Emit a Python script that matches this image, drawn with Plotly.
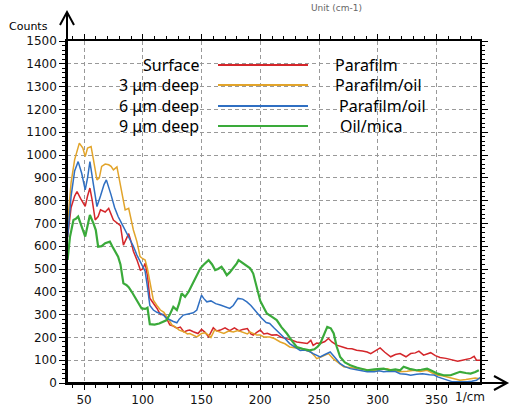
import plotly.graph_objects as go

# ---------------- data ----------------
surface_x = [36, 39, 42, 44, 47, 51, 53, 55, 57, 59.5, 62, 64, 68, 71, 75, 79, 81, 83.5, 86, 88, 90, 92, 95, 98, 100, 102, 104, 106, 109, 112, 115, 118, 120, 123, 126, 129, 132, 135, 138, 140, 143, 147, 150, 153, 156, 160, 163, 166, 170, 174, 178, 182, 185, 189, 192, 194, 197, 200, 203, 206, 210, 214, 218, 223, 227, 231, 236, 240, 243, 245, 248, 251, 255, 258, 261, 265, 270, 274, 278, 282, 287, 291, 294, 298, 302, 306, 311, 315, 319, 324, 328, 332, 335, 339, 342, 345, 349, 353, 358, 362, 368, 372, 376, 379, 382, 384, 389]
surface_y = [640, 770, 820, 840, 810, 775, 820, 855, 800, 715, 730, 760, 750, 766, 715, 700, 690, 605, 630, 655, 620, 578, 540, 495, 500, 525, 470, 372, 350, 328, 300, 300, 285, 255, 250, 240, 245, 224, 230, 232, 225, 217, 235, 222, 202, 242, 228, 232, 242, 230, 242, 229, 235, 239, 215, 210, 222, 232, 215, 218, 210, 212, 200, 195, 188, 180, 176, 173, 187, 165, 175, 173, 182, 195, 180, 166, 158, 151, 150, 144, 140, 136, 129, 140, 154, 135, 115, 125, 129, 115, 129, 132, 140, 122, 128, 133, 120, 112, 108, 103, 95, 100, 103, 108, 117, 100, 100]

deep3_x = [36, 39, 42, 46, 49, 51, 53, 56, 58, 61, 63, 65, 68, 71, 73, 75, 78, 80, 82, 85, 88, 90, 92, 95, 97.7, 100, 102, 104, 106, 109, 112, 115, 118, 121, 125, 128, 131, 135, 138, 140, 143, 146, 150, 153, 156, 158, 161, 165, 169, 173, 177, 181, 185, 189, 191, 194, 197, 200, 203, 208, 212, 217, 221, 225, 230, 234, 238, 243, 246, 248, 252, 255, 258, 262, 266, 271, 276, 282, 288, 294, 297, 302, 308, 313, 319, 325, 331, 336, 342, 346, 351, 355, 359, 364, 370, 375, 379, 383, 387]
deep3_y = [700, 880, 980, 1052, 1030, 993, 1030, 1037, 980, 891, 900, 950, 960, 957, 950, 935, 948, 891, 830, 759, 766, 720, 671, 620, 554, 545, 539, 500, 440, 363, 340, 320, 310, 285, 254, 245, 232, 225, 215, 217, 208, 202, 217, 220, 210, 200, 232, 225, 217, 228, 224, 230, 224, 215, 224, 217, 210, 210, 202, 202, 195, 180, 172, 158, 155, 151, 145, 136, 120, 107, 115, 122, 129, 107, 90, 71, 68, 63, 60, 56, 56, 60, 63, 55, 49, 52, 56, 50, 56, 45, 34, 32, 27, 20, 12, 15, 19, 22, 19]

deep6_x = [36, 39, 42, 45, 48, 51, 53, 55, 58, 61, 64, 67, 69, 71, 73, 76, 79, 82, 85, 87, 89, 92, 95, 98, 100, 102, 104, 106, 109, 112, 115, 117.5, 120, 123, 126, 129, 131, 134.5, 137, 140, 143, 146, 148, 150, 152, 154.5, 158, 162, 166, 170, 174, 177, 181, 185, 188.6, 192, 195, 198, 201, 205, 208, 212, 217, 221, 225, 230, 234, 238, 242, 245, 248, 251, 255, 259.5, 263, 268, 272, 276.6, 282, 287, 291, 297, 301, 305, 310, 315, 319, 324, 328, 333, 338, 344, 348, 351, 355, 359, 363, 367, 372, 376, 380, 384, 388]
deep6_y = [640, 820, 930, 971, 920, 847, 900, 971, 870, 774, 820, 870, 891, 860, 825, 770, 730, 700, 671, 650, 627, 600, 561, 530, 510, 490, 420, 340, 320, 310, 305, 298, 285, 276, 270, 264, 280, 298, 300, 305, 308, 320, 350, 385, 370, 356, 360, 348, 342, 335, 327, 340, 371, 368, 356, 340, 320, 300, 285, 265, 261, 240, 217, 195, 173, 158, 143, 145, 138, 129, 122, 114, 125, 136, 115, 85, 72, 63, 58, 52, 49, 49, 54, 49, 52, 50, 41, 38, 34, 38, 41, 36, 35, 27, 20, 12, 6, 5, 4, 5, 8, 12, 27]

deep9_x = [36, 38, 41, 43, 45, 48, 51, 53, 55, 58, 60, 62, 65, 68, 70, 72, 74, 76, 79, 81, 82, 83.5, 86, 88, 90.6, 93, 95, 97, 99, 102, 104, 106, 110, 114, 117.5, 120, 123, 126, 129, 131, 133, 136, 139, 141, 143, 146, 149, 152, 156, 159, 161.6, 164, 167, 169, 171.5, 174, 177, 180, 181.5, 184, 188.6, 191.4, 194, 197, 200, 203, 205.6, 210, 214, 218, 222.6, 227, 231, 236, 242, 246, 249, 251, 254, 257, 260, 262.5, 265, 268, 272, 276.6, 282, 286, 291, 297, 302, 305, 310, 315, 319, 322, 327, 333, 337, 342, 345, 351, 356, 362, 366, 370, 375, 379, 383, 386]
deep9_y = [540, 640, 715, 720, 730, 690, 642, 690, 737, 700, 671, 598, 600, 613, 615, 620, 600, 583, 554, 520, 481, 437, 430, 420, 400, 380, 363, 345, 327, 325, 330, 258, 256, 261, 268, 275, 300, 334, 320, 350, 393, 378, 400, 420, 437, 470, 503, 520, 539, 520, 495, 500, 510, 495, 473, 485, 503, 525, 539, 530, 517, 503, 480, 420, 360, 330, 305, 290, 276, 245, 217, 185, 158, 150, 143, 148, 160, 173, 210, 246, 240, 217, 160, 114, 90, 78, 68, 62, 56, 60, 63, 63, 56, 60, 56, 71, 62, 56, 58, 63, 56, 41, 34, 34, 42, 49, 44, 41, 48, 56]

series_names = ["Surface", "3 \u03bcm deep", "6 \u03bcm deep", "9 \u03bcm deep"]
series_notes = ["Parafilm", "Parafilm/oil", "Parafilm/oil", "Oil/mica"]
series_colors = ["#d4262a", "#e2a42a", "#2f6fc2", "#3aaa3a"]
series_widths = [1.5, 1.5, 1.5, 2.2]

x_ticks = [50, 100, 150, 200, 250, 300, 350]
y_ticks = list(range(0, 1501, 100))

# ---------------- figure ----------------
fig = go.Figure()
all_x = [surface_x, deep3_x, deep6_x, deep9_x]
all_y = [surface_y, deep3_y, deep6_y, deep9_y]
for xs, ys, name, col, w in zip(all_x, all_y, series_names, series_colors, series_widths):
    fig.add_trace(go.Scatter(x=xs, y=ys, mode="lines", name=name,
                             line=dict(color=col, width=w), showlegend=False))

L, R, T, B = 67, 30, 41, 28
W, H = 510, 411
pw, ph = W - L - R, H - T - B

def px(xp):
    return (xp - L) / pw

def py(yp):
    return (H - B - yp) / ph

axis_font = dict(family="DejaVu Sans", size=12, color="#111111")
grid_dash = "4px,3px"

fig.update_layout(
    width=W, height=H,
    margin=dict(l=L, r=R, t=T, b=B),
    paper_bgcolor="white", plot_bgcolor="white",
    showlegend=False,
    xaxis=dict(range=[35.5, 387], tickvals=x_ticks, ticktext=[str(v) for v in x_ticks],
               showgrid=True, gridcolor="#999999", griddash=grid_dash, gridwidth=1,
               zeroline=False, showline=True, linecolor="black", linewidth=1.5,
               mirror="allticks", ticks="outside", ticklen=5, tickcolor="black",
               minor=dict(dtick=10, tick0=0, ticks="outside", ticklen=3, tickcolor="black", showgrid=False),
               tickfont=axis_font, automargin=False),
    yaxis=dict(range=[0, 1500], tickvals=y_ticks, ticktext=[str(v) for v in y_ticks],
               showgrid=True, gridcolor="#999999", griddash=grid_dash, gridwidth=1,
               zeroline=False, showline=True, linecolor="black", linewidth=1.5,
               mirror="allticks", ticks="outside", ticklen=6, tickcolor="black",
               minor=dict(dtick=20, tick0=0, ticks="outside", ticklen=3, tickcolor="black", showgrid=False),
               tickfont=axis_font, automargin=False),
)

shapes = []
# axis arrows (left / up, bottom / right)
shapes.append(dict(type="line", xref="paper", yref="paper", x0=0, y0=0, x1=0, y1=py(12),
                   line=dict(color="black", width=2)))
shapes.append(dict(type="path", xref="paper", yref="paper",
                   path=f"M {px(60)} {py(25)} L {px(67)} {py(12)} L {px(74)} {py(25)}",
                   line=dict(color="black", width=2)))
shapes.append(dict(type="line", xref="paper", yref="paper", x0=0, y0=0, x1=px(507), y1=0,
                   line=dict(color="black", width=2)))
shapes.append(dict(type="path", xref="paper", yref="paper",
                   path=f"M {px(494)} {py(376)} L {px(507)} {py(383)} L {px(494)} {py(390)}",
                   line=dict(color="black", width=2)))

annotations = []
rows = [65, 85, 106, 126]
note_x = [333, 333, 337, 338]
for r, name, note, col, nx in zip(rows, series_names, series_notes, series_colors, note_x):
    shapes.append(dict(type="line", xref="paper", yref="paper", x0=px(218), x1=px(308),
                       y0=py(r), y1=py(r), line=dict(color=col, width=2)))
    annotations.append(dict(xref="paper", yref="paper", x=px(201), y=py(r), text=name,
                            xanchor="right", yanchor="middle", showarrow=False,
                            font=dict(family="Noto Sans", size=16, color="black")))
    annotations.append(dict(xref="paper", yref="paper", x=px(nx), y=py(r), text=note,
                            xanchor="left", yanchor="middle", showarrow=False,
                            font=dict(family="Noto Sans", size=16, color="black")))

annotations.append(dict(xref="paper", yref="paper", x=px(28), y=py(26), text="Counts",
                        xanchor="center", yanchor="middle", showarrow=False,
                        font=dict(family="DejaVu Sans", size=11, color="black")))
annotations.append(dict(xref="paper", yref="paper", x=px(470), y=py(397), text="1/cm",
                        xanchor="center", yanchor="middle", showarrow=False,
                        font=dict(family="DejaVu Sans", size=12, color="#111111")))
annotations.append(dict(xref="paper", yref="paper", x=px(336), y=py(1), text="Unit (cm-1)",
                        xanchor="center", yanchor="top", showarrow=False,
                        font=dict(family="DejaVu Sans", size=9, color="#666666")))

fig.update_layout(shapes=shapes, annotations=annotations)
fig.write_html("out.html", config={"displayModeBar": False},
               post_script="document.body.style.margin='0px';")
